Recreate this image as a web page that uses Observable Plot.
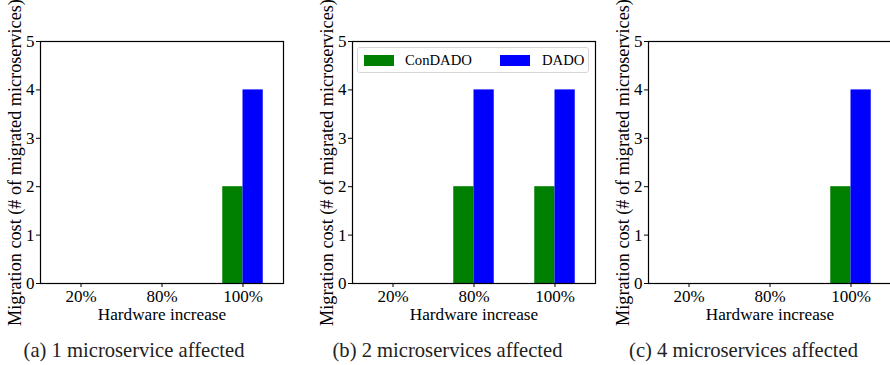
<!DOCTYPE html>
<html>
<head>
<meta charset="utf-8">
<script src="https://cdn.jsdelivr.net/npm/d3@7"></script>
<script src="https://cdn.jsdelivr.net/npm/@observablehq/plot@0.6"></script>
<style>
  html, body { margin: 0; padding: 0; background: white; }
  #root { position: relative; width: 890px; height: 365px; overflow: hidden; font-family: "Liberation Serif", "Times New Roman", Times, "DejaVu Serif", serif; }
  .panel { position: absolute; top: 0; }
  .panel text { font-family: "Liberation Serif", "Times New Roman", Times, "DejaVu Serif", serif; }
  .caption { position: absolute; font-size: 20.6px; line-height: 20px; white-space: nowrap; color: #222; transform: translateX(-50%); }
  .legend { position: absolute; left: 357px; top: 47px; width: 230px; height: 24px; border: 1px solid #d6d6d6; border-radius: 3px; background: rgba(255,255,255,0.8); font-size: 14.7px; }
  .patch { position: absolute; top: 7px; width: 30px; height: 11px; }
  .ltext { position: absolute; top: 4px; line-height: 17px; white-space: nowrap; }
</style>
</head>
<body>
<div id="root"></div>
<script>
const categories = ["20%", "80%", "100%"];
const seriesNames = ["ConDADO", "DADO"];
const seriesColors = ["#008000", "#0000ff"];
const panelA_ConDADO = [0, 0, 2];
const panelA_DADO = [0, 0, 4];
const panelB_ConDADO = [0, 2, 2];
const panelB_DADO = [0, 4, 4];
const panelC_ConDADO = [0, 0, 2];
const panelC_DADO = [0, 0, 4];
const yTicks = [0, 1, 2, 3, 4, 5];
const captions = ["(a) 1 microservice affected", "(b) 2 microservices affected", "(c) 4 microservices affected"];
const xLabel = "Hardware increase";
const yLabel = "Migration cost (# of migrated microservices)";

const panels = [
  {con: panelA_ConDADO, dado: panelA_DADO, left: 0, capCenter: 134},
  {con: panelB_ConDADO, dado: panelB_DADO, left: 312, capCenter: 447.5, legend: true},
  {con: panelC_ConDADO, dado: panelC_DADO, left: 608, capCenter: 743.5}
];

const FONT = '"Liberation Serif", "Times New Roman", Times, "DejaVu Serif", serif';
const root = document.getElementById("root");
const frameW = 243;
const bw = frameW / categories.length;

panels.forEach((p, k) => {
  const data = categories.flatMap((c, i) => [
    {cat: c, series: seriesNames[0], value: p.con[i]},
    {cat: c, series: seriesNames[1], value: p.dado[i]}
  ]);
  const chart = Plot.plot({
    width: 40 + frameW + 12,
    height: 283 + 50,
    marginLeft: 40,
    marginRight: 12,
    marginTop: 41,
    marginBottom: 50,
    style: {fontFamily: FONT, fontSize: "17px", color: "black", background: "transparent", overflow: "visible"},
    x: {domain: categories, padding: 0, round: false, label: null},
    y: {domain: [0, 5], label: null},
    marks: [
      Plot.barY(data.filter(d => d.series === seriesNames[0]), {x: "cat", y: "value", fill: seriesColors[0], insetLeft: bw * 0.25, insetRight: bw * 0.5}),
      Plot.barY(data.filter(d => d.series === seriesNames[1]), {x: "cat", y: "value", fill: seriesColors[1], insetLeft: bw * 0.5, insetRight: bw * 0.25}),
      Plot.frame({stroke: "black", strokeWidth: 1.2}),
      Plot.axisX({tickSize: 4, tickPadding: 2, label: xLabel, labelArrow: "none", labelAnchor: "center", labelOffset: 36, fontSize: 17}),
      Plot.axisY({ticks: yTicks, tickSize: 4, tickPadding: 2, tickFormat: d3.format("d"), label: yLabel, labelArrow: "none", labelAnchor: "center", labelOffset: 32, fontSize: 17})
    ]
  });
  d3.select(chart).selectAll('g[aria-label="x-axis label"]').attr("font-size", 17.2);
  d3.select(chart).selectAll('g[aria-label="y-axis label"]').attr("font-size", 18.2);
  chart.classList.add("panel");
  chart.style.left = p.left + "px";
  root.appendChild(chart);

  const cap = document.createElement("div");
  cap.className = "caption";
  cap.textContent = captions[k];
  cap.style.left = p.capCenter + "px";
  cap.style.top = "340px";
  root.appendChild(cap);

  if (p.legend) {
    const lg = document.createElement("div");
    lg.className = "legend";
    const items = [{x: 6, tx: 47}, {x: 142, tx: 184}];
    seriesNames.forEach((name, i) => {
      const patch = document.createElement("div");
      patch.className = "patch";
      patch.style.left = items[i].x + "px";
      patch.style.background = seriesColors[i];
      lg.appendChild(patch);
      const t = document.createElement("div");
      t.className = "ltext";
      t.style.left = items[i].tx + "px";
      t.textContent = name;
      lg.appendChild(t);
    });
    root.appendChild(lg);
  }
});
</script>
</body>
</html>
